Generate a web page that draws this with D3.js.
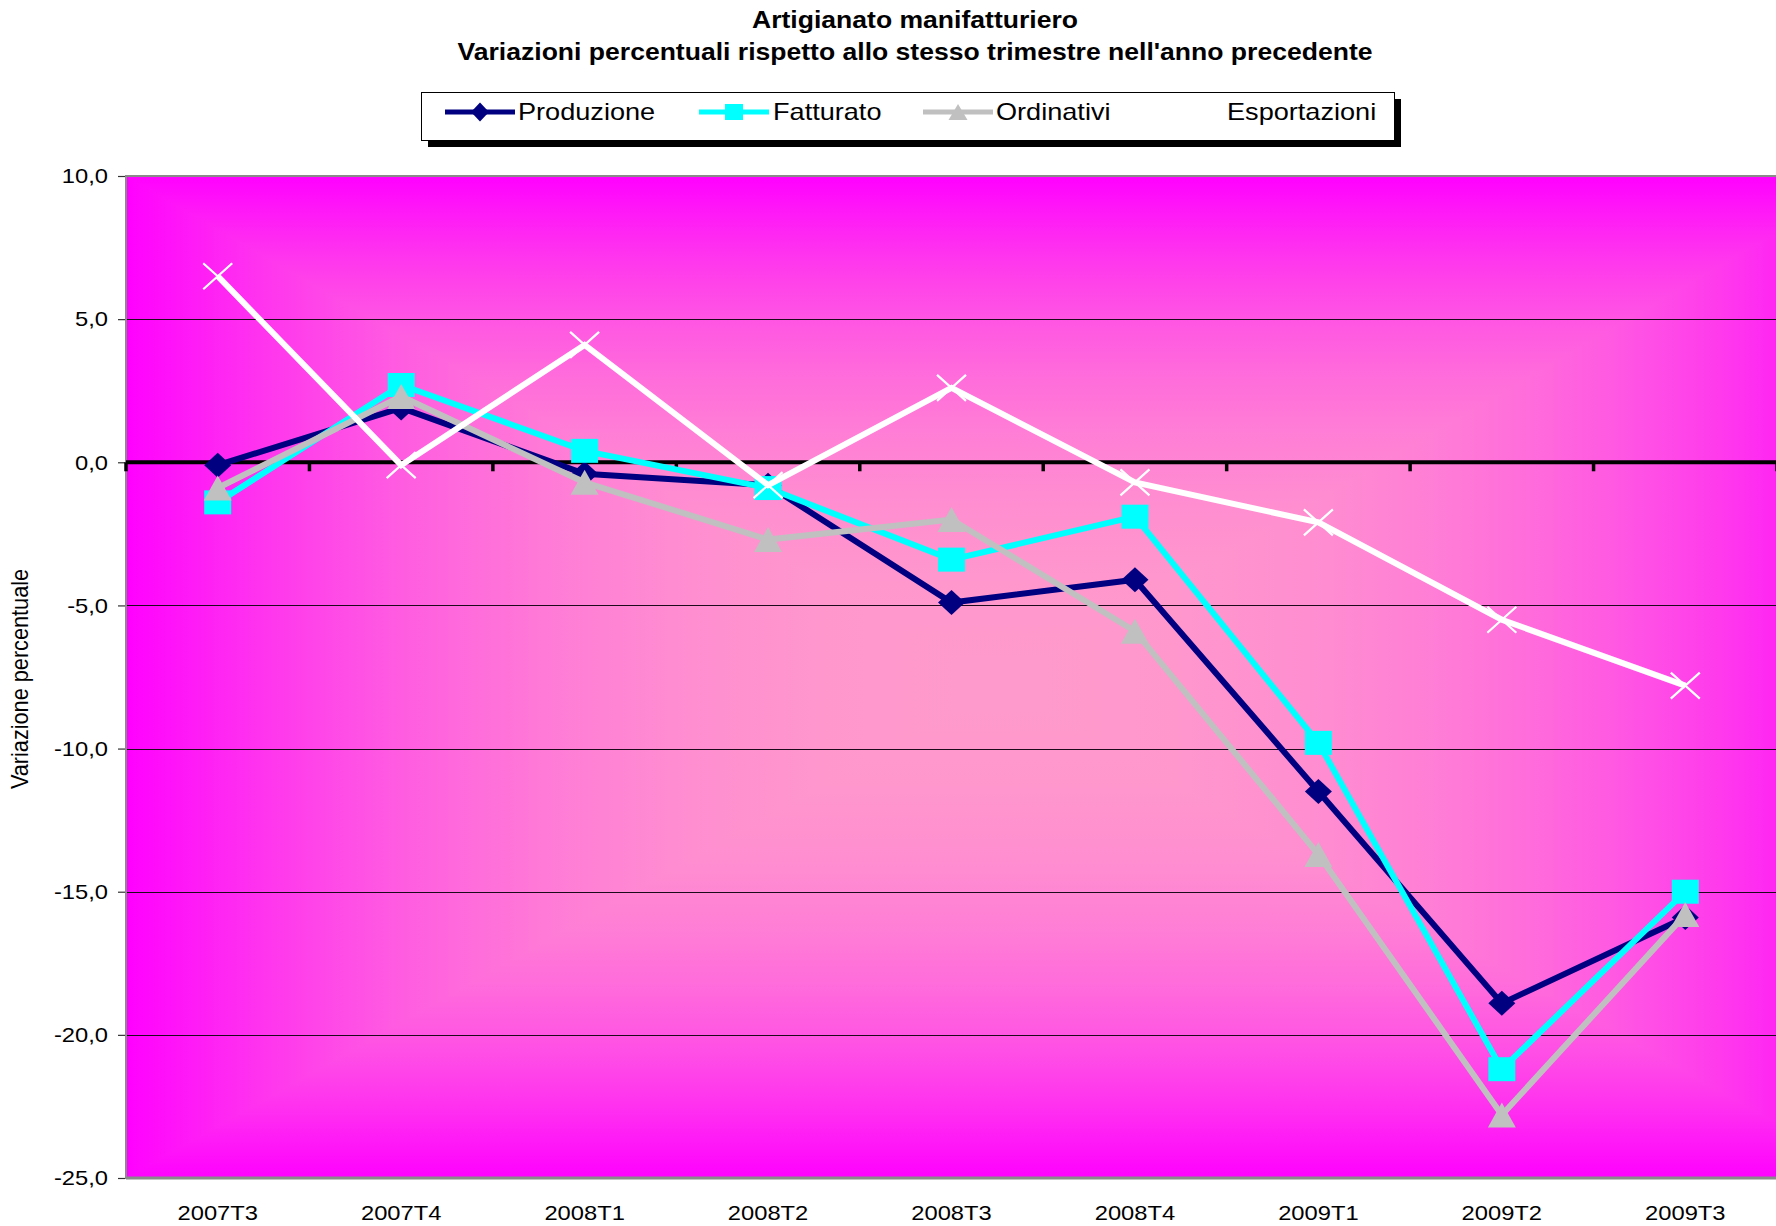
<!DOCTYPE html>
<html>
<head>
<meta charset="utf-8">
<script src="https://cdn.jsdelivr.net/npm/d3@7"></script>
<style>
  html, body { margin: 0; padding: 0; background: #ffffff; }
  svg { display: block; }
  text { font-family: Arial, "Liberation Sans", sans-serif; fill: #000; }
</style>
</head>
<body>
<svg id="chart" width="1776" height="1226"></svg>
<script>
// ---------------- DATA ----------------
const categories = ["2007T3", "2007T4", "2008T1", "2008T2", "2008T3", "2008T4", "2009T1", "2009T2", "2009T3"];
const produzione   = [-0.1, 1.9, -0.4, -0.8, -4.9, -4.1, -11.5, -18.9, -15.9];
const fatturato    = [-1.4, 2.7,  0.4, -0.9, -3.4, -1.9,  -9.8, -21.2, -15.0];
const ordinativi   = [-0.9, 2.3, -0.7, -2.7, -2.0, -5.9, -13.7, -22.8, -15.8];
const esportazioni = [ 6.5, -0.1, 4.1, -0.8,  2.6, -0.7,  -2.1,  -5.5,  -7.8];
const yTicks = [10, 5, 0, -5, -10, -15, -20, -25];
const gridValues = [5, -5, -10, -15, -20];
const seriesNames = ["Produzione", "Fatturato", "Ordinativi", "Esportazioni"];
const titleLines = ["Artigianato manifatturiero", "Variazioni percentuali rispetto allo stesso trimestre nell'anno precedente"];
const yAxisTitle = "Variazione percentuale";

// ---------------- LAYOUT ----------------
const SX = 1.13; // horizontal text stretch seen in the reference
const plot = { x0: 126, x1: 1777, y0: 176, y1: 1178 };
const svg = d3.select("#chart");

const x = d3.scaleBand().domain(categories).range([plot.x0, plot.x1]).padding(0);
const xc = d => x(d) + x.bandwidth() / 2;
const y = d3.scaleLinear().domain([-25, 10]).range([plot.y1, plot.y0]);

const it = d3.formatLocale({ decimal: ",", thousands: ".", grouping: [3], currency: ["", "€"], minus: "-" });
const fmt = it.format(".1f");

// ---------------- BACKGROUND (rectangular "from center" gradient) ----------------
const defs = svg.append("defs");
const gb = { x0: plot.x0, x1: 1874, y0: plot.y0, y1: plot.y1 }; // gradient box (extends past the picture on the right)
const cx = 1000, cy = 685;
const edgeCol = "#FF00FF", centerCol = "#FF9ACC";
const mix = d3.interpolateRgb(edgeCol, centerCol);
function linGrad(id, x1, y1, x2, y2) {
  const g = defs.append("linearGradient").attr("id", id)
    .attr("gradientUnits", "userSpaceOnUse")
    .attr("x1", x1).attr("y1", y1).attr("x2", x2).attr("y2", y2);
  d3.range(0, 1.0001, 0.05).forEach(o => {
    const t = 1 - o;
    g.append("stop").attr("offset", o).attr("stop-color", mix(1 - Math.pow(t, 2.4)));
  });
}
linGrad("gL", gb.x0, 0, cx, 0);
linGrad("gR", gb.x1, 0, cx, 0);
linGrad("gT", 0, gb.y0, 0, cy);
linGrad("gB", 0, gb.y1, 0, cy);
defs.append("clipPath").attr("id", "plotClip").append("rect")
  .attr("x", plot.x0).attr("y", plot.y0).attr("width", plot.x1 - plot.x0).attr("height", plot.y1 - plot.y0);

const bg = svg.append("g").attr("clip-path", "url(#plotClip)");
bg.append("rect").attr("x", gb.x0).attr("y", gb.y0).attr("width", cx - gb.x0 + 1).attr("height", gb.y1 - gb.y0).attr("fill", "url(#gL)");
bg.append("rect").attr("x", cx).attr("y", gb.y0).attr("width", gb.x1 - cx).attr("height", gb.y1 - gb.y0).attr("fill", "url(#gR)");
bg.append("path").attr("d", `M${gb.x0},${gb.y0}L${gb.x1},${gb.y0}L${cx},${cy}Z`).attr("fill", "url(#gT)");
bg.append("path").attr("d", `M${gb.x0},${gb.y1}L${gb.x1},${gb.y1}L${cx},${cy}Z`).attr("fill", "url(#gB)");

// ---------------- GRIDLINES ----------------
svg.append("g").selectAll("line").data(gridValues).join("line")
  .attr("x1", plot.x0).attr("x2", plot.x1)
  .attr("y1", d => Math.round(y(d)) + 0.5).attr("y2", d => Math.round(y(d)) + 0.5)
  .attr("stroke", "#1a0a1a").attr("stroke-width", 1.2);

// plot borders (gray)
svg.append("line").attr("x1", plot.x0).attr("x2", plot.x1).attr("y1", plot.y0).attr("y2", plot.y0)
  .attr("stroke", "#8a8a8a").attr("stroke-width", 2);
svg.append("line").attr("x1", plot.x0).attr("x2", plot.x1).attr("y1", plot.y1).attr("y2", plot.y1)
  .attr("stroke", "#8a8a8a").attr("stroke-width", 3);
svg.append("line").attr("x1", plot.x0).attr("x2", plot.x0).attr("y1", plot.y0 - 1).attr("y2", plot.y1 + 1)
  .attr("stroke", "#8a8a8a").attr("stroke-width", 2);

// ---------------- Y AXIS ----------------
const yAxis = svg.append("g").attr("transform", `translate(${plot.x0 - 1},0)`)
  .call(d3.axisLeft(y).tickValues(yTicks).tickFormat(fmt).tickSize(7).tickSizeOuter(0));
yAxis.select(".domain").remove();
yAxis.selectAll(".tick line").attr("stroke", "#333").attr("stroke-width", 1.2);
yAxis.selectAll(".tick text")
  .attr("x", null)
  .attr("transform", `translate(-17,0) scale(${SX},1)`)
  .style("font-size", "21px").style("font-family", "Arial, 'Liberation Sans', sans-serif")
  .attr("fill", "#000");

// ---------------- X AXIS LABELS ----------------
const xAxis = svg.append("g").attr("transform", `translate(0,${plot.y1})`)
  .call(d3.axisBottom(x).tickSize(0).tickSizeOuter(0));
xAxis.select(".domain").remove();
xAxis.selectAll(".tick text")
  .attr("y", null).attr("dy", null)
  .attr("transform", `translate(0,42) scale(${SX},1)`)
  .style("font-size", "21px").style("font-family", "Arial, 'Liberation Sans', sans-serif")
  .attr("fill", "#000");

// ---------------- ZERO LINE + CATEGORY TICKS ----------------
const y0px = y(0);
svg.append("line").attr("x1", plot.x0).attr("x2", plot.x1).attr("y1", y0px).attr("y2", y0px)
  .attr("stroke", "#000").attr("stroke-width", 4);
const boundaries = categories.map(c => x(c)).concat([x.range()[1]]);
svg.append("g").selectAll("line").data(boundaries).join("line")
  .attr("x1", d => d).attr("x2", d => d)
  .attr("y1", y0px).attr("y2", y0px + 9)
  .attr("stroke", "#000").attr("stroke-width", 3.5);

// ---------------- SERIES ----------------
const markers = {
  diamond: (w, h) => `M0,${-h / 2}L${w / 2},0L0,${h / 2}L${-w / 2},0Z`,
  square: (w, h) => `M${-w / 2},${-h / 2}H${w / 2}V${h / 2}H${-w / 2}Z`,
  triangle: (w, h) => `M0,${-h / 2}L${w / 2},${h / 2}L${-w / 2},${h / 2}Z`,
  cross: (w, h) => `M${-w / 2},${-h / 2}L${w / 2},${h / 2}M${w / 2},${-h / 2}L${-w / 2},${h / 2}`
};
const series = [
  { name: seriesNames[0], values: produzione, color: "#000080", marker: "diamond", mw: 27, mh: 25, lw: 6 },
  { name: seriesNames[1], values: fatturato, color: "#00FFFF", marker: "square", mw: 27, mh: 24, lw: 6 },
  { name: seriesNames[2], values: ordinativi, color: "#C0C0C0", marker: "triangle", mw: 28, mh: 25, lw: 6 },
  { name: seriesNames[3], values: esportazioni, color: "#FFFFFF", marker: "cross", mw: 29, mh: 26, lw: 6 }
];

const line = d3.line().x((d, i) => xc(categories[i])).y(d => y(d));
const plotG = svg.append("g");
series.forEach(s => {
  const g = plotG.append("g");
  g.append("path").datum(s.values).attr("d", line)
    .attr("fill", "none").attr("stroke", s.color).attr("stroke-width", s.lw)
    .attr("stroke-linejoin", "miter");
  g.selectAll(".m").data(s.values).join("path").attr("class", "m")
    .attr("transform", (d, i) => `translate(${xc(categories[i])},${y(d)})`)
    .attr("d", markers[s.marker](s.mw, s.mh))
    .attr("fill", s.marker === "cross" ? "none" : s.color)
    .attr("stroke", s.marker === "cross" ? s.color : "none")
    .attr("stroke-width", 2.2);
});

// ---------------- TITLE ----------------
const titleX = 915;
[28, 60].forEach((by, i) => {
  svg.append("g").attr("transform", `translate(${titleX},${by}) scale(${SX},1)`)
    .append("text").attr("text-anchor", "middle")
    .style("font-size", "23.5px").style("font-weight", "bold")
    .text(titleLines[i]);
});

// ---------------- Y AXIS TITLE ----------------
svg.append("g").attr("transform", `translate(28,679) scale(${SX},1) rotate(-90)`)
  .append("text").attr("text-anchor", "middle").style("font-size", "21.7px")
  .text(yAxisTitle);

// ---------------- LEGEND ----------------
const lg = { x: 421, y: 92, w: 973, h: 48 };
svg.append("rect").attr("x", lg.x + 7).attr("y", lg.y + 7).attr("width", lg.w).attr("height", lg.h).attr("fill", "#000");
svg.append("rect").attr("x", lg.x + 0.5).attr("y", lg.y + 0.5).attr("width", lg.w).attr("height", lg.h)
  .attr("fill", "#fff").attr("stroke", "#000").attr("stroke-width", 1);
const legendItems = [
  { lx: 445, tx: 518, mw: 18, mh: 19 },
  { lx: 699, tx: 773, mw: 18, mh: 16 },
  { lx: 923, tx: 996, mw: 19, mh: 16 },
  { lx: 1150, tx: 1227, mw: 19, mh: 17 }
];
const ly = 112;
series.forEach((s, i) => {
  const li = legendItems[i];
  const g = svg.append("g");
  g.append("line").attr("x1", li.lx).attr("x2", li.lx + 70).attr("y1", ly).attr("y2", ly)
    .attr("stroke", s.color).attr("stroke-width", 5);
  g.append("path").attr("transform", `translate(${li.lx + 35},${ly})`)
    .attr("d", markers[s.marker](li.mw, li.mh))
    .attr("fill", s.marker === "cross" ? "none" : s.color)
    .attr("stroke", s.marker === "cross" ? s.color : "none").attr("stroke-width", 2);
  g.append("g").attr("transform", `translate(${li.tx},120) scale(${SX},1)`)
    .append("text").style("font-size", "24px").text(s.name);
});
</script>
</body>
</html>
